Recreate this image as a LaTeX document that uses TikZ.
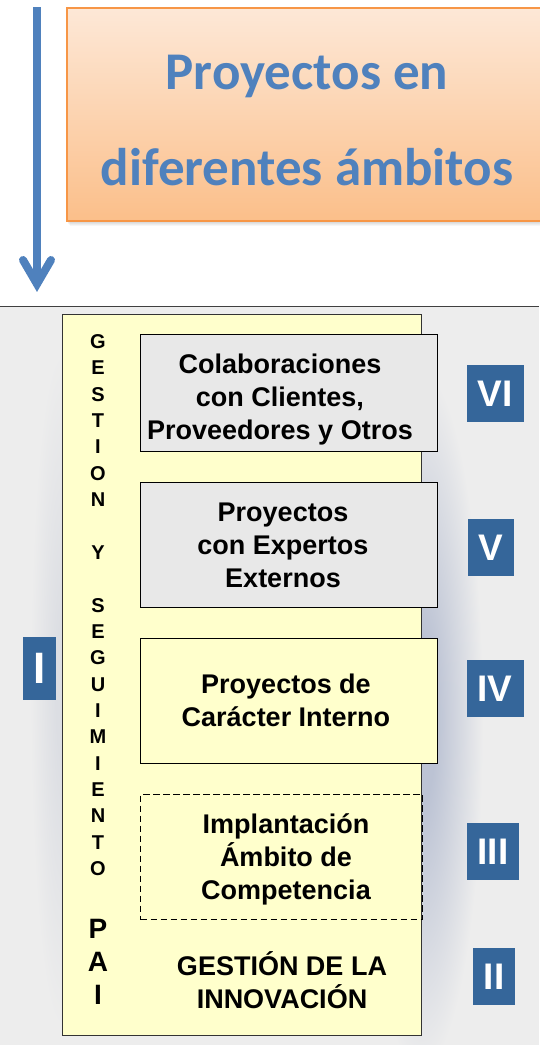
\documentclass[tikz,border=0pt]{standalone}
\usepackage{fontspec}
\setmainfont{Liberation Sans}
\newfontfamily\titlefont{Carlito}
\definecolor{titleblue}{HTML}{4F81BD}
\definecolor{badgeblue}{HTML}{35669A}
\definecolor{orangeedge}{HTML}{F79646}
\definecolor{peachtop}{HTML}{FDE8D7}
\definecolor{peachbot}{HTML}{FBBF8A}
\definecolor{paleyellow}{HTML}{FFFFCC}
\definecolor{boxgray}{HTML}{E8E8E8}
\definecolor{panelgray}{HTML}{EDEDED}
\definecolor{glowc}{HTML}{BCC3D4}
\definecolor{leftglowc}{HTML}{DCDEE3}
\pgfdeclareradialshading{glowshade}{\pgfpoint{0bp}{0bp}}{color(0bp)=(glowc); color(6bp)=(glowc); color(25bp)=(panelgray); color(50bp)=(panelgray)}
\pgfdeclareradialshading{leftglowshade}{\pgfpoint{0bp}{0bp}}{color(0bp)=(leftglowc); color(5bp)=(leftglowc); color(25bp)=(panelgray); color(50bp)=(panelgray)}
\tikzset{
  titlebox/.style={draw=orangeedge, line width=1.5pt, top color=peachtop, bottom color=peachbot, inner sep=0pt, anchor=north west},
  titletext/.style={font=\titlefont\bfseries\fontsize{53}{53}\selectfont, text=titleblue, anchor=base, inner sep=0pt},
  bluearrow/.style={draw=titleblue, line width=8pt},
  panelbox/.style={draw=black!80, line width=0.8pt, fill=paleyellow, inner sep=0pt, anchor=north west},
  graybox/.style={draw=black, line width=1.1pt, fill=boxgray, inner sep=0pt, anchor=north west},
  yellowbox/.style={draw=black, line width=1.1pt, fill=paleyellow, inner sep=0pt, anchor=north west},
  dashbox/.style={draw=black, line width=1.2pt, dash pattern=on 6.5pt off 3.5pt, inner sep=0pt, anchor=north west},
  boxtext/.style={font=\bfseries\fontsize{27}{33}\selectfont, align=center, inner sep=0pt},
  badge/.style={fill=badgeblue, text=white, font=\bfseries\fontsize{37}{37}\selectfont, inner sep=0pt},
  vletter/.style={font=\bfseries\fontsize{20}{20}\selectfont, anchor=base, inner sep=0pt},
  bigletter/.style={font=\bfseries\fontsize{28}{28}\selectfont, anchor=base, inner sep=0pt}
}
\begin{document}
\begin{tikzpicture}[x=1pt,y=-1pt]
\useasboundingbox (0,0) rectangle (539,1045);
\fill[white] (0,0) rectangle (539,1045);
% lower panel
\fill[panelgray] (0,306) rectangle (539,1045);
\shade[shading=leftglowshade] (62,690) ellipse [x radius=32, y radius=340];
\shade[shading=glowshade] (421,720) ellipse [x radius=62, y radius=350];
\fill[panelgray] (0,306) rectangle (539,312);
\draw[black!75, line width=1pt] (0,306) -- (539,306);
% title box with shadow
\foreach \r in {1,...,6}
  \fill[black,opacity=0.035] ({66+\r*0.6},{7+\r}) rectangle (560,{220+\r});
\node[titlebox, minimum width=494pt, minimum height=213pt] (titlebox) at (66,7) {};
\node[titletext] (title1) at (307,89) {Proyectos en};
\node[titletext] (title2) at (307,185) {diferentes ámbitos};
% arrow
\coordinate (arrtop) at (37,7);
\coordinate (arrend) at (37,284);
\coordinate (armL) at (23,260);
\coordinate (armR) at (51,260);
\draw[bluearrow] (arrtop) -- (arrend);
\draw[bluearrow, line cap=round, line join=miter] (armL) -- (arrend) -- (armR);
% yellow panel
\node[panelbox, minimum width=359pt, minimum height=721pt] (panel) at (62,314) {};
% inner boxes
\node[graybox, minimum width=297pt, minimum height=117pt] (b6) at (140,334) {};
\node[boxtext] (b6t) at (280,400) {Colaboraciones\\con Clientes,\\Proveedores y Otros};
\node[graybox, minimum width=297pt, minimum height=125pt] (b5) at (140,482) {};
\node[boxtext] (b5t) at (283,545) {Proyectos\\con Expertos\\Externos};
\node[yellowbox, minimum width=297pt, minimum height=125pt] (b4) at (140,638) {};
\node[boxtext] (b4t) at (286,700) {Proyectos de\\Carácter Interno};
\node[dashbox, minimum width=282pt, minimum height=125pt] (b3) at (140,794) {};
\node[boxtext] (b3t) at (286,859) {Implantación\\Ámbito de\\Competencia};
\node[boxtext] (b2t) at (282,980) {GESTIÓN DE LA\\INNOVACIÓN};
% vertical letters
\foreach \l/\k [count=\n] in {G/0,E/1,S/2,T/3,I/4,O/5,N/6,Y/8,S/10,E/11,G/12,U/13,I/14,M/15,I/16,E/17,N/18,T/19,O/20}
  \node[vletter] (v\n) at (98,{348.5+\k*26.35}) {\l};
\foreach \l/\yy [count=\n] in {P/938,A/971,I/1004}
  \node[bigletter] (p\n) at (98,\yy) {\l};
% badges
\node[badge, minimum width=57pt, minimum height=57pt] (r6) at (495,393.5) {VI};
\node[badge, minimum width=46pt, minimum height=57pt] (r5) at (491,547.5) {V};
\node[badge, minimum width=57pt, minimum height=57pt] (r4) at (495,688.5) {IV};
\node[badge, minimum width=52pt, minimum height=57pt] (r3) at (493,851.5) {III};
\node[badge, minimum width=42pt, minimum height=57pt] (r2) at (494,976.5) {II};
\node[badge, minimum width=33pt, minimum height=63pt, font=\bfseries\fontsize{44}{44}\selectfont] (r1) at (39.5,668.5) {I};
\end{tikzpicture}
\end{document}
